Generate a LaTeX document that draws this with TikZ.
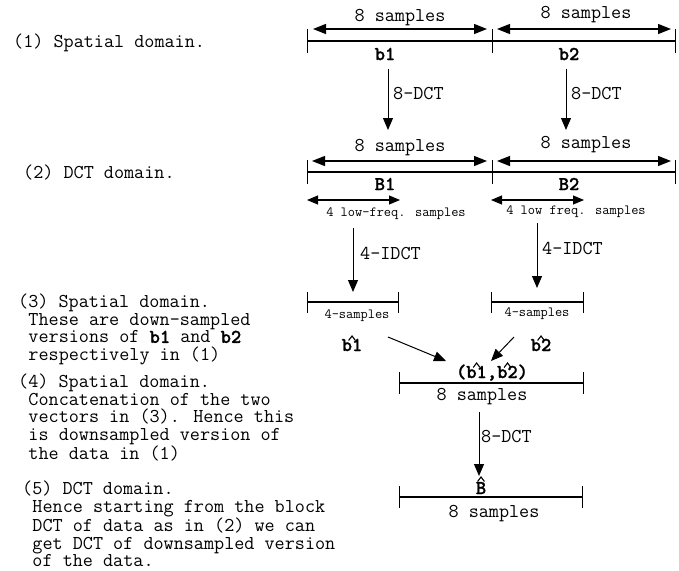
\documentclass[tikz,border=0pt]{standalone}
\usepackage{fontspec}
\usetikzlibrary{arrows.meta}
\newfontfamily\ttbold[FakeBold=1.2]{lmmonolt10-bold.otf}
\newcommand\bigf{\ttfamily\fontsize{19.6}{17.8}\selectfont}
\newcommand\smallf{\ttfamily\fontsize{14}{14}\selectfont}
\newcommand\bigb{\ttbold\fontsize{19.6}{17.8}\selectfont}
\newcommand\ind{\hspace*{0.525em}}
% #1 = anchor, #2 = horizontal offset (pt), #3 = vertical offset (pt)
\newcommand\hatat[3]{\draw[hatline]
  ([xshift={(#2-3.4)*1pt},yshift={(#3+10.5)*1pt}]#1) --
  ([xshift={(#2)*1pt},yshift={(#3+15)*1pt}]#1) --
  ([xshift={(#2+3.4)*1pt},yshift={(#3+10.5)*1pt}]#1);}
\begin{document}
\begin{tikzpicture}[x=1pt,y=-1pt,
  lbl/.style={font=\bigf,inner sep=0pt},
  sm/.style={font=\smallf,inner sep=0pt},
  bl/.style={font=\bigb,inner sep=0pt},
  txt/.style={font=\bigf,inner sep=0pt,anchor=base west},
  para/.style={font=\bigf,inner sep=0pt,anchor=north west,align=left},
  seg/.style={line width=1.3pt},
  tick/.style={line width=0.9pt},
  hatline/.style={line width=1.1pt,line join=miter},
  dbl/.style={line width=1.1pt,{Triangle[length=13pt,width=10pt]}-{Triangle[length=13pt,width=10pt]}},
  sdbl/.style={line width=1.1pt,{Triangle[length=11pt,width=9pt]}-{Triangle[length=11pt,width=9pt]}},
  arr/.style={line width=1pt,-{Triangle[length=12pt,width=10pt]}}]
\fill[white] (0,0) rectangle (679,570);
\useasboundingbox (0,0) rectangle (679,570);

% ---------- left descriptions ----------
\node[txt] (t1) at (13,47) {(1) Spatial domain.};
\node[txt] (t2) at (23,178) {(2) DCT domain.};
\node[para] (t3) at (18,293.5) {(3) Spatial domain.\\
  \ind These are down-sampled\\
  \ind versions of {\bigb b1} and {\bigb b2}\\
  \ind respectively in (1)};
\node[para] (t4) at (18,373.5) {(4) Spatial domain.\\
  \ind Concatenation of the two\\
  \ind vectors in (3). Hence this\\
  \ind is downsampled version of\\
  \ind the data in (1)};
\node[para] (t5) at (22,480.5) {(5) DCT domain.\\
  \ind Hence starting from the block\\
  \ind DCT of data as in (2) we can\\
  \ind get DCT of downsampled version\\
  \ind of the data.};

% ---------- row 1 : spatial domain ----------
\coordinate (r1L) at (307,41); \coordinate (r1M) at (492,41); \coordinate (r1R) at (675,41);
\draw[seg] (r1L) -- (r1R);
\foreach \c in {r1L,r1M,r1R} \draw[tick] ([yshift=12pt]\c) -- ([yshift=-12pt]\c);
\coordinate (a1s) at (313,29); \coordinate (a1e) at (487,29);
\coordinate (a2s) at (497,29); \coordinate (a2e) at (671,29);
\draw[dbl] (a1s) -- (a1e);
\draw[dbl] (a2s) -- (a2e);
\node[lbl] (s1a) at (400,18) {8 samples};
\node[lbl] (s1b) at (586,15) {8 samples};
\node[bl] (b1) at (385,54) {b1};
\node[bl] (b2) at (569,54) {b2};

% 8-DCT arrows
\coordinate (d1s) at (388,69); \coordinate (d1e) at (388,130);
\coordinate (d2s) at (566,69); \coordinate (d2e) at (566,130);
\draw[arr] (d1s) -- (d1e);
\draw[arr] (d2s) -- (d2e);
\node[lbl,anchor=west] (dct1) at (393,94) {8-DCT};
\node[lbl,anchor=west] (dct2) at (571,94) {8-DCT};

% ---------- row 2 : DCT domain ----------
\coordinate (r2L) at (307,172); \coordinate (r2M) at (492,172); \coordinate (r2R) at (675,172);
\draw[seg] (r2L) -- (r2R);
\foreach \c in {r2L,r2M,r2R} \draw[tick] ([yshift=12pt]\c) -- ([yshift=-12pt]\c);
\coordinate (a3s) at (312,161); \coordinate (a3e) at (487,161);
\coordinate (a4s) at (497,161); \coordinate (a4e) at (671,161);
\draw[dbl] (a3s) -- (a3e);
\draw[dbl] (a4s) -- (a4e);
\node[lbl] (s2a) at (400,148) {8 samples};
\node[lbl] (s2b) at (586,145) {8 samples};
\node[bl] (B1) at (385,184) {B1};
\node[bl] (B2) at (569,184) {B2};
\coordinate (l1s) at (307,200); \coordinate (l1e) at (400,200);
\coordinate (l2s) at (491,200); \coordinate (l2e) at (584,200);
\draw[sdbl] (l1s) -- (l1e);
\draw[sdbl] (l2s) -- (l2e);
\node[sm] (lf1) at (396,214) {4 low-freq. samples};
\node[sm] (lf2) at (576,212) {4 low freq. samples};

% 4-IDCT arrows
\coordinate (i1s) at (353,228); \coordinate (i1e) at (353,292);
\coordinate (i2s) at (537,223); \coordinate (i2e) at (537,288);
\draw[arr] (i1s) -- (i1e);
\draw[arr] (i2s) -- (i2e);
\node[lbl,anchor=west] (idct1) at (360,253) {4-IDCT};
\node[lbl,anchor=west] (idct2) at (542,248) {4-IDCT};

% ---------- row 3 : down-sampled halves ----------
\coordinate (h1L) at (307,302); \coordinate (h1R) at (398,302);
\coordinate (h2L) at (491,302); \coordinate (h2R) at (583,302);
\draw[seg] (h1L) -- (h1R);
\draw[seg] (h2L) -- (h2R);
\foreach \c in {h1L,h1R,h2L,h2R} \draw[tick] ([yshift=10pt]\c) -- ([yshift=-11pt]\c);
\node[sm] (fs1) at (357,316) {4-samples};
\node[sm] (fs2) at (537,314) {4-samples};
\node[bl,anchor=base] (hb1) at (352,351) {b1};
\node[bl,anchor=base] (hb2) at (541,351) {b2};
\hatat{hb1.base}{0}{0}
\hatat{hb2.base}{0}{0}

% merge arrows
\coordinate (m1s) at (388,337); \coordinate (m1e) at (446,361);
\coordinate (m2s) at (514,337); \coordinate (m2e) at (491,361);
\draw[arr] (m1s) -- (m1e);
\draw[arr] (m2s) -- (m2e);

% ---------- row 4 : concatenation ----------
\node[bl,anchor=base] (cat) at (492,378) {(b1,b2)};
\hatat{cat.base}{-15.4}{0}
\hatat{cat.base}{15.5}{0}
\coordinate (r4L) at (399,383); \coordinate (r4R) at (583,383);
\draw[seg] (r4L) -- (r4R);
\foreach \c in {r4L,r4R} \draw[tick] ([yshift=11pt]\c) -- ([yshift=-11pt]\c);
\node[lbl] (s4) at (482,397) {8 samples};

\coordinate (d3s) at (479,412); \coordinate (d3e) at (479,476);
\draw[arr] (d3s) -- (d3e);
\node[lbl,anchor=west] (dct3) at (481,437) {8-DCT};

% ---------- row 5 : result ----------
\node[bl,anchor=base] (Bh) at (481,494) {B};
\hatat{Bh.base}{0}{2}
\coordinate (r5L) at (399,497); \coordinate (r5R) at (582,497);
\draw[seg] (r5L) -- (r5R);
\foreach \c in {r5L,r5R} \draw[tick] ([yshift=11pt]\c) -- ([yshift=-11pt]\c);
\node[lbl] (s5) at (494,514) {8 samples};
\end{tikzpicture}
\end{document}
